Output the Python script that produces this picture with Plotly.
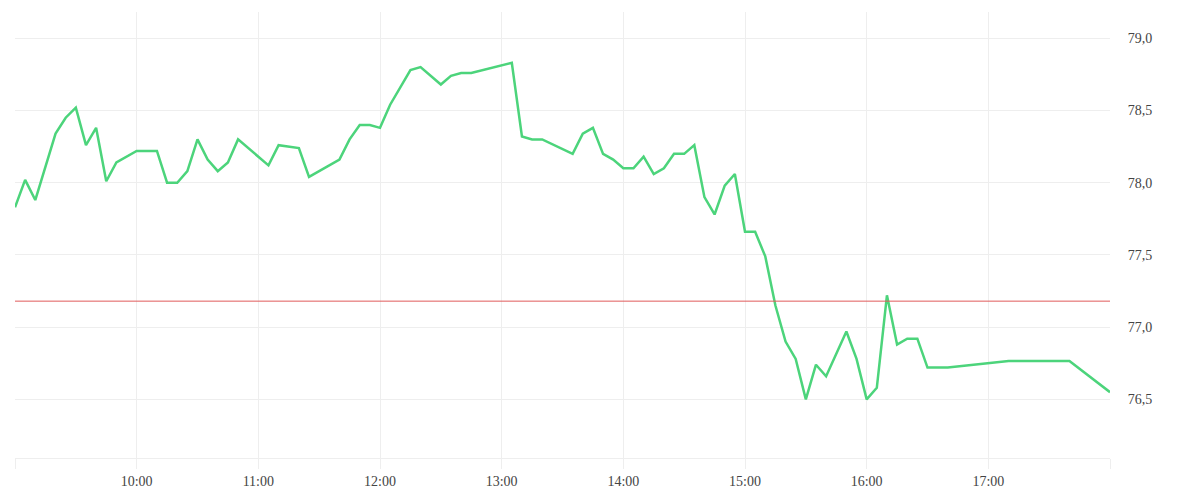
import plotly.graph_objects as go

day = "2024-01-02 "
times = ["09:00", "09:05", "09:10", "09:20", "09:25", "09:30", "09:35", "09:40", "09:45", "09:50",
         "10:00", "10:10", "10:15", "10:20", "10:25", "10:30", "10:35", "10:40", "10:45", "10:50",
         "11:05", "11:10", "11:20", "11:25", "11:40", "11:45", "11:50", "11:55",
         "12:00", "12:05", "12:15", "12:20", "12:30", "12:35", "12:40", "12:45",
         "13:05", "13:10", "13:15", "13:20", "13:35", "13:40", "13:45", "13:50", "13:55",
         "14:00", "14:05", "14:10", "14:15", "14:20", "14:25", "14:30", "14:35", "14:40", "14:45", "14:50", "14:55",
         "15:00", "15:05", "15:10", "15:15", "15:20", "15:25", "15:30", "15:35", "15:40", "15:50", "15:55",
         "16:00", "16:05", "16:10", "16:15", "16:20", "16:25", "16:30", "16:40",
         "17:10", "17:40", "18:00"]
prices = [77.83, 78.02, 77.88, 78.34, 78.45, 78.52, 78.26, 78.38, 78.01, 78.14,
          78.22, 78.22, 78.00, 78.00, 78.08, 78.30, 78.16, 78.08, 78.14, 78.30,
          78.12, 78.26, 78.24, 78.04, 78.16, 78.30, 78.40, 78.40,
          78.38, 78.54, 78.78, 78.80, 78.68, 78.74, 78.76, 78.76,
          78.83, 78.32, 78.30, 78.30, 78.20, 78.34, 78.38, 78.20, 78.16,
          78.10, 78.10, 78.18, 78.06, 78.10, 78.20, 78.20, 78.26, 77.90, 77.78, 77.98, 78.06,
          77.66, 77.66, 77.49, 77.15, 76.90, 76.78, 76.50, 76.74, 76.66, 76.97, 76.78,
          76.50, 76.58, 77.22, 76.88, 76.92, 76.92, 76.72, 76.72,
          76.765, 76.765, 76.55]
ref_price = 77.18

hour_ticks = ["09:00", "10:00", "11:00", "12:00", "13:00", "14:00", "15:00", "16:00", "17:00", "18:00"]
hour_labels = ["", "10:00", "11:00", "12:00", "13:00", "14:00", "15:00", "16:00", "17:00", ""]
y_ticks = [76.5, 77.0, 77.5, 78.0, 78.5, 79.0]

x = [day + t for t in times]

fig = go.Figure()
fig.add_trace(go.Scatter(x=x, y=prices, mode="lines",
                         line=dict(color="#4cd47b", width=2.5), hoverinfo="skip"))

fig.add_shape(type="line", xref="paper", x0=0, x1=1, yref="y", y0=ref_price, y1=ref_price,
              line=dict(color="#e05a5a", width=1))

font = dict(family="Liberation Serif", size=14, color="#444444")
fig.update_layout(
    width=1200, height=500,
    margin=dict(l=7, r=98, t=4, b=50),
    paper_bgcolor="white", plot_bgcolor="white",
    showlegend=False,
    separators=",.",
    font=font,
    xaxis=dict(
        type="date",
        range=[day + "09:00", day + "18:00"],
        tickvals=[day + t for t in hour_ticks],
        ticktext=hour_labels,
        showgrid=True, gridcolor="#eeeeee", gridwidth=1,
        ticks="outside", ticklen=10, tickcolor="#eeeeee", tickwidth=1,
        showline=True, linecolor="#eeeeee", linewidth=1,
        zeroline=False,
        tickfont=font,
    ),
    yaxis=dict(
        side="right",
        range=[76.094, 79.182],
        tickvals=y_ticks,
        tickformat=".1f",
        showgrid=True, gridcolor="#eeeeee", gridwidth=1,
        ticks="outside", ticklen=14, tickcolor="rgba(0,0,0,0)",
        zeroline=False, showline=False,
        tickfont=font,
    ),
)

fig.write_html("out.html")
